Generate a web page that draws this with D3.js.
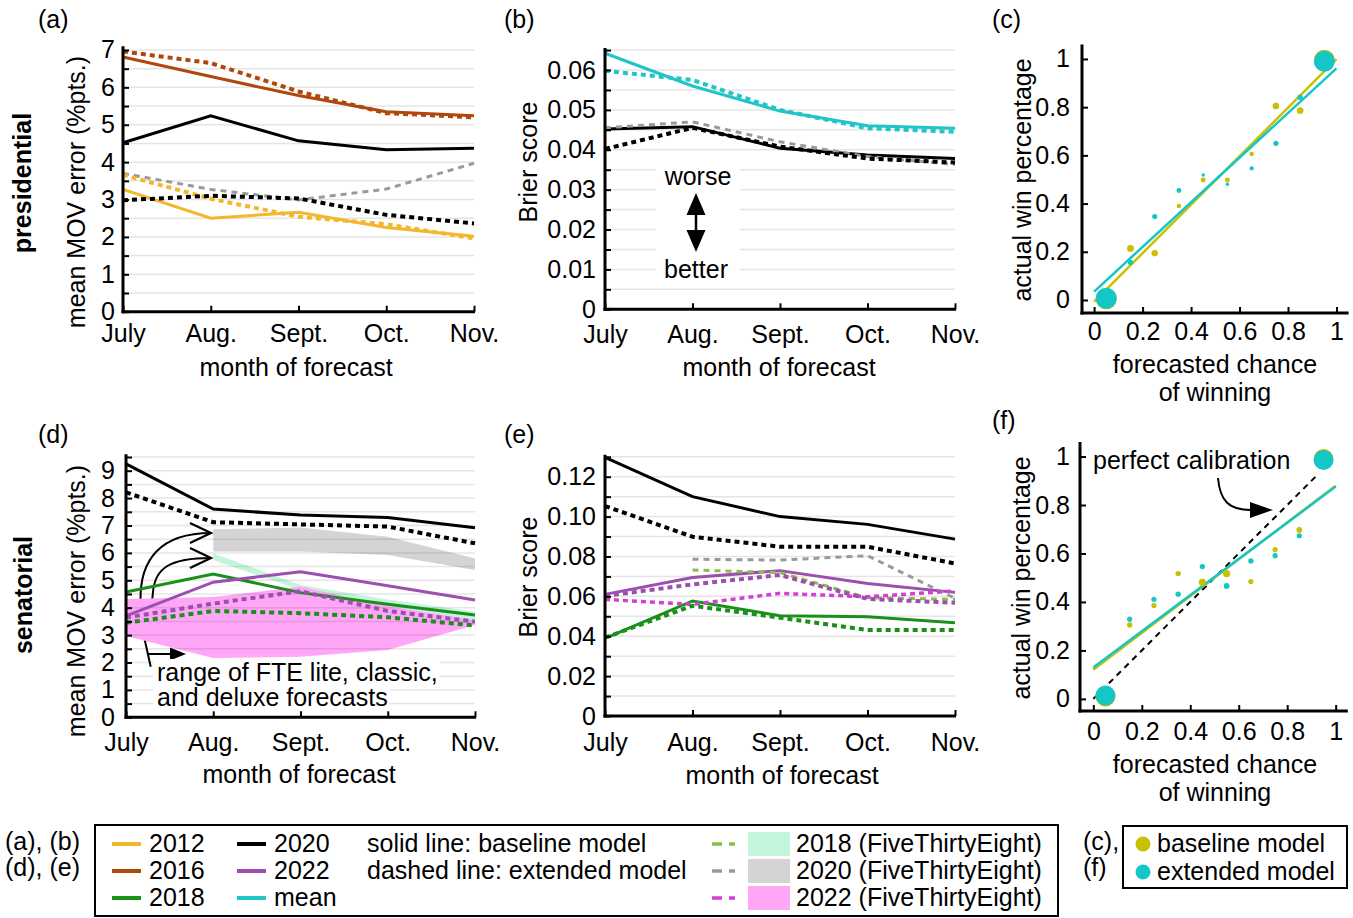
<!DOCTYPE html>
<html><head><meta charset="utf-8">
<script src="https://cdn.jsdelivr.net/npm/d3@7"></script>
<style>
html,body{margin:0;padding:0;background:#fff;}
svg{display:block;font-family:"Liberation Sans",Arial,Helvetica,sans-serif;}
</style></head><body>
<svg id="chart" width="1353" height="918"></svg>
<script>
// ---------------- data ----------------
const months = ["July", "Aug.", "Sept.", "Oct.", "Nov."];

// (a) presidential mean MOV error (%pts.)
const presMov2012Base = [3.27, 2.50, 2.66, 2.25, 2.02];
const presMov2012Ext  = [3.66, 3.02, 2.54, 2.34, 1.96];
const presMov2016Base = [6.81, 6.29, 5.78, 5.35, 5.24];
const presMov2016Ext  = [6.96, 6.65, 5.89, 5.31, 5.20];
const presMov2020Base = [4.52, 5.24, 4.57, 4.33, 4.37];
const presMov2020Ext  = [2.98, 3.10, 3.03, 2.59, 2.36];
const presMov2020FTE  = [3.70, 3.27, 2.99, 3.28, 3.97];

// (b) presidential Brier score
const presBrierMeanBase = [0.0642, 0.0560, 0.0497, 0.0460, 0.0454];
const presBrierMeanExt  = [0.0598, 0.0575, 0.0500, 0.0454, 0.0445];
const presBrier2020Base = [0.0452, 0.0458, 0.0404, 0.0387, 0.0378];
const presBrier2020Ext  = [0.0402, 0.0455, 0.0408, 0.0378, 0.0368];
const presBrier2020FTE  = [0.0455, 0.0470, 0.0420, 0.0383, 0.0363];

// (d) senatorial mean MOV error (%pts.)
const senMov2018Base = [4.57, 5.23, 4.55, 4.13, 3.73];
const senMov2018Ext  = [3.45, 3.88, 3.80, 3.65, 3.35];
const senMov2020Base = [9.25, 7.60, 7.38, 7.29, 6.92];
const senMov2020Ext  = [8.21, 7.12, 7.04, 6.96, 6.35];
const senMov2022Base = [3.70, 4.93, 5.31, 4.80, 4.28];
const senMov2022Ext  = [3.64, 4.15, 4.60, 3.88, 3.49];
// FiveThirtyEight ranges (lite / classic / deluxe)
const fte2018Low  = [null, 5.74, 4.65, 4.05, 3.50];
const fte2018High = [null, 5.99, 4.83, 4.30, 3.85];
const fte2020Low  = [null, 6.05, 6.05, 5.92, 5.38];
const fte2020High = [null, 6.86, 6.93, 6.59, 5.80];
const fte2022Low  = [2.97, 2.16, 2.21, 2.46, 3.37];
const fte2022High = [4.32, 4.39, 4.77, 4.05, 3.55];

// (e) senatorial Brier score
const senBrier2018Base = [0.0389, 0.0577, 0.0503, 0.0498, 0.0468];
const senBrier2018Ext  = [0.0393, 0.0553, 0.0493, 0.0431, 0.0431];
const senBrier2020Base = [0.1297, 0.1100, 0.1000, 0.0961, 0.0887];
const senBrier2020Ext  = [0.1053, 0.0899, 0.0849, 0.0849, 0.0765];
const senBrier2022Base = [0.0610, 0.0695, 0.0729, 0.0665, 0.0620];
const senBrier2022Ext  = [0.0602, 0.0660, 0.0707, 0.0587, 0.0568];
const senBrier2018FTE  = [null, 0.0732, 0.0719, 0.0593, 0.0585];
const senBrier2020FTE  = [null, 0.0786, 0.0782, 0.0804, 0.0590];
const senBrier2022FTE  = [0.0585, 0.0560, 0.0615, 0.0598, 0.0627];

// (c), (f) calibration
const calibBins = [0.05, 0.15, 0.25, 0.35, 0.45, 0.55, 0.65, 0.75, 0.85, 0.95];
const presCalibBase = [0.005, 0.214, 0.194, 0.390, 0.498, 0.498, 0.606, 0.805, 0.786, 0.995];
const presCalibExt  = [0.007, 0.156, 0.346, 0.454, 0.519, 0.480, 0.546, 0.650, 0.841, 0.990];
const presCountBase = [400, 42, 38, 18, 22, 22, 18, 40, 42, 400];
const presCountExt  = [400, 24, 24, 22, 11, 11, 16, 24, 26, 400];
const presFitBase = [-0.007, 0.999];   // fitted value at x = 0 and x = 1
const presFitExt  = [0.035, 0.961];

const senCalibBase = [0.010, 0.305, 0.385, 0.517, 0.481, 0.517, 0.484, 0.616, 0.697, 0.990];
const senCalibExt  = [0.014, 0.329, 0.411, 0.432, 0.546, 0.466, 0.569, 0.591, 0.673, 0.986];
const senCountBase = [360, 26, 24, 26, 48, 48, 24, 24, 30, 360];
const senCountExt  = [360, 24, 24, 26, 26, 30, 26, 24, 24, 360];
const senFitBase = [0.120, 0.880];
const senFitExt  = [0.129, 0.876];
const perfectCalib = [0, 0.93];

const legendYears = ["2012", "2016", "2018", "2020", "2022", "mean"];
const legendFTE = ["2018 (FiveThirtyEight)", "2020 (FiveThirtyEight)", "2022 (FiveThirtyEight)"];
const legendModels = ["baseline model", "extended model"];

// ---------------- styles ----------------
const FS = 25;
const C = {
  y2012: "#f3b72c", y2016: "#b0470c", y2018: "#1a8f1a", y2020: "#000000",
  y2022: "#9b4fae", mean: "#20c5c8",
  fte2018: "#8dbd47", fte2020: "#9a9a9a", fte2022: "#d63ed6",
  band2018: "#c2f5da", band2020: "#d4d4d4", band2022: "#ffa6f7",
  base: "#c8c000", ext: "#14c6c6"
};
const STY = {
  solid: { w: 3, dash: null },
  ext: { w: 4, dash: "5,4" },
  fte: { w: 3, dash: "6,5" }
};

const svg = d3.select("#chart");
const defs = svg.append("defs");
defs.append("marker").attr("id", "openArrow").attr("markerUnits", "userSpaceOnUse")
  .attr("viewBox", "-24 -13 28 26").attr("refX", 0).attr("refY", 0)
  .attr("markerWidth", 28).attr("markerHeight", 26).attr("orient", "auto")
  .append("path").attr("d", "M-21,-10 L0,0 L-21,10").attr("fill", "none")
  .attr("stroke", "#000").attr("stroke-width", 2.2);

function styleAxis(a) {
  a.attr("font-size", FS).attr("font-family", null);
  a.select(".domain").remove();
  a.selectAll(".tick line").attr("stroke", "#000").attr("stroke-width", 2);
  a.selectAll(".tick text").attr("fill", "#000");
}

function makeLinePanel(c) {
  const x = d3.scalePoint().domain(months).range([c.x0, c.x1]);
  const y = d3.scaleLinear().domain([0, c.ymax]).range([c.y0, c.y0 - c.ymax * c.ppu]);
  const g = svg.append("g");
  const under = g.append("g");
  const bands = g.append("g");
  const grid = g.append("g");
  const boxes = g.append("g");
  const lines = g.append("g");
  const axes = g.append("g");
  const n = Math.floor(c.ymax / c.step + 1e-6);
  const vals = d3.range(0, n + 1).map(i => +(i * c.step).toFixed(6));
  grid.selectAll("line").data(vals.filter(v => v > 0)).join("line")
    .attr("x1", c.x0).attr("x2", c.x1).attr("y1", d => y(d)).attr("y2", d => y(d))
    .attr("stroke", "rgba(0,0,0,0.1)").attr("stroke-width", 1.5);
  const isLab = d => Math.abs(d / c.labelStep - Math.round(d / c.labelStep)) < 1e-6;
  const ya = axes.append("g").attr("transform", `translate(${c.x0},0)`)
    .call(d3.axisLeft(y).tickValues(vals).tickSize(-6).tickSizeOuter(0).tickPadding(c.yPad)
      .tickFormat(d => isLab(d) ? c.fmt(d) : ""));
  const xa = axes.append("g").attr("transform", `translate(0,${c.y0})`)
    .call(d3.axisBottom(x).tickSize(-6).tickSizeOuter(0).tickPadding(c.xPad));
  styleAxis(ya); styleAxis(xa);
  axes.append("line").attr("x1", c.x0).attr("x2", c.x0).attr("y1", c.y0 + 1.5).attr("y2", y(c.ymax))
    .attr("stroke", "#000").attr("stroke-width", 3);
  axes.append("line").attr("x1", c.x0 - 1.5).attr("x2", c.x1 + 1).attr("y1", c.y0).attr("y2", c.y0)
    .attr("stroke", "#000").attr("stroke-width", 3);
  return { x, y, under, bands, grid, boxes, lines, axes };
}

function drawSeries(p, vals, color, sty) {
  const line = d3.line().defined(d => d[1] != null).x(d => p.x(d[0])).y(d => p.y(d[1]));
  p.lines.append("path").datum(months.map((m, i) => [m, vals[i]]))
    .attr("d", line).attr("fill", "none").attr("stroke", color)
    .attr("stroke-width", sty.w).attr("stroke-dasharray", sty.dash);
}
function drawBand(p, lo, hi, color) {
  const area = d3.area().defined(d => d[1] != null)
    .x(d => p.x(d[0])).y0(d => p.y(d[1])).y1(d => p.y(d[2]));
  p.bands.append("path").datum(months.map((m, i) => [m, lo[i], hi[i]]))
    .attr("d", area).attr("fill", color).attr("stroke", "none");
}

function txt(sel, s, x, y, opts = {}) {
  const t = sel.append("text").attr("x", x).attr("y", y).attr("font-size", opts.fs || FS)
    .attr("fill", "#000").text(s);
  if (opts.anchor) t.attr("text-anchor", opts.anchor);
  if (opts.bold) t.attr("font-weight", "bold");
  return t;
}
function rotTxt(s, x, y, bold) {
  const t = svg.append("text").attr("transform", `translate(${x},${y}) rotate(-90)`)
    .attr("text-anchor", "middle").attr("font-size", FS).attr("fill", "#000").text(s);
  if (bold) t.attr("font-weight", "bold");
}

const fmtInt = d3.format("d");
const fmt2 = d => d === 0 ? "0" : d3.format(".2f")(d);

// ---------------- (a) ----------------
const pa = makeLinePanel({ x0: 123, x1: 474, y0: 311.7, ymax: 7.1, ppu: 37.39, step: 0.5, labelStep: 1,
  fmt: fmtInt, yPad: 8, xPad: 13 });
drawSeries(pa, presMov2020FTE, C.fte2020, STY.fte);
drawSeries(pa, presMov2012Base, C.y2012, STY.solid);
drawSeries(pa, presMov2016Base, C.y2016, STY.solid);
drawSeries(pa, presMov2020Base, C.y2020, STY.solid);
drawSeries(pa, presMov2012Ext, C.y2012, STY.ext);
drawSeries(pa, presMov2016Ext, C.y2016, STY.ext);
drawSeries(pa, presMov2020Ext, C.y2020, STY.ext);

// ---------------- (b) ----------------
const pb = makeLinePanel({ x0: 605, x1: 955, y0: 309.3, ymax: 0.0655, ppu: 3988, step: 0.005, labelStep: 0.01,
  fmt: fmt2, yPad: 9, xPad: 15.5 });
pb.boxes.append("rect").attr("x", 656).attr("y", 162).attr("width", 84).attr("height", 120).attr("fill", "#fff");
txt(pb.boxes, "worse", 698, 185, { anchor: "middle" });
txt(pb.boxes, "better", 696, 278, { anchor: "middle" });
pb.boxes.append("line").attr("x1", 696).attr("x2", 696).attr("y1", 212).attr("y2", 233)
  .attr("stroke", "#000").attr("stroke-width", 2.5);
pb.boxes.append("path").attr("d", "M696,193 L686.5,215 L705.5,215 Z M696,252 L686.5,230 L705.5,230 Z").attr("fill", "#000");
drawSeries(pb, presBrierMeanBase, C.mean, STY.solid);
drawSeries(pb, presBrier2020Base, C.y2020, STY.solid);
drawSeries(pb, presBrier2020FTE, C.fte2020, STY.fte);
drawSeries(pb, presBrierMeanExt, C.mean, STY.ext);
drawSeries(pb, presBrier2020Ext, C.y2020, STY.ext);

// ---------------- (d) ----------------
const pd = makeLinePanel({ x0: 126, x1: 475, y0: 717.3, ymax: 9.6, ppu: 27.4, step: 0.5, labelStep: 1,
  fmt: fmtInt, yPad: 11, xPad: 16 });
// annotation arrows (partly hidden behind the pink range)
pd.under.append("path").attr("d", "M150.7,666.7 L145,641 C142,625 140,612 140.5,600 C140,560 160,533 211,533")
  .attr("fill", "none").attr("stroke", "#000").attr("stroke-width", 2).attr("marker-end", "url(#openArrow)");
pd.under.append("path").attr("d", "M145,641 C150,620 152,604 153,592 C155,568 170,558 211,558")
  .attr("fill", "none").attr("stroke", "#000").attr("stroke-width", 2).attr("marker-end", "url(#openArrow)");
pd.under.append("path").attr("d", "M148,654 L172,654").attr("stroke", "#000").attr("stroke-width", 2);
pd.under.append("path").attr("d", "M170,647.5 L186,654 L170,660.5 Z").attr("fill", "#000");
drawBand(pd, fte2020Low, fte2020High, C.band2020);
drawBand(pd, fte2018Low, fte2018High, C.band2018);
drawBand(pd, fte2022Low, fte2022High, C.band2022);
[["range of FTE lite, classic,", 681], ["and deluxe forecasts", 706]].forEach(([s, yy]) => {
  const t = txt(pd.boxes, s, 157, yy);
  const bb = t.node().getBBox();
  pd.boxes.insert("rect", "text").attr("x", bb.x - 4).attr("y", bb.y + 1).attr("width", bb.width + 6)
    .attr("height", bb.height - 1).attr("fill", "#fff");
});
drawSeries(pd, senMov2018Base, C.y2018, STY.solid);
drawSeries(pd, senMov2020Base, C.y2020, STY.solid);
drawSeries(pd, senMov2022Base, C.y2022, STY.solid);
drawSeries(pd, senMov2018Ext, C.y2018, STY.ext);
drawSeries(pd, senMov2020Ext, C.y2020, STY.ext);
drawSeries(pd, senMov2022Ext, C.y2022, STY.ext);

// ---------------- (e) ----------------
const pe = makeLinePanel({ x0: 605, x1: 955, y0: 716, ymax: 0.131, ppu: 1994, step: 0.01, labelStep: 0.02,
  fmt: fmt2, yPad: 9, xPad: 17 });
drawSeries(pe, senBrier2018Base, C.y2018, STY.solid);
drawSeries(pe, senBrier2020Base, C.y2020, STY.solid);
drawSeries(pe, senBrier2022Base, C.y2022, STY.solid);
drawSeries(pe, senBrier2020FTE, C.fte2020, STY.fte);
drawSeries(pe, senBrier2018FTE, C.fte2018, STY.fte);
drawSeries(pe, senBrier2022FTE, C.fte2022, { w: 3.5, dash: "5,4" });
drawSeries(pe, senBrier2018Ext, C.y2018, STY.ext);
drawSeries(pe, senBrier2020Ext, C.y2020, STY.ext);
drawSeries(pe, senBrier2022Ext, C.y2022, STY.ext);

// ---------------- (c), (f) ----------------
const rScale = d3.scaleSqrt().domain([0, 400]).range([0, 10.5]);
function makeCalib(c) {
  const x = d3.scaleLinear().domain(c.xd).range([c.x0, c.x1]);
  const y = d3.scaleLinear().domain(c.yd).range([c.y0, c.y1]);
  const g = svg.append("g");
  const ticks = [0, 0.2, 0.4, 0.6, 0.8, 1];
  const f = d => (d === 0 || d === 1) ? String(d) : d.toFixed(1);
  const ya = g.append("g").attr("transform", `translate(${c.x0},0)`)
    .call(d3.axisLeft(y).tickValues(ticks).tickSize(-6).tickSizeOuter(0).tickPadding(c.yPad).tickFormat(f));
  const xa = g.append("g").attr("transform", `translate(0,${c.y0})`)
    .call(d3.axisBottom(x).tickValues(ticks).tickSize(-6).tickSizeOuter(0).tickPadding(c.xPad).tickFormat(f));
  styleAxis(ya); styleAxis(xa);
  g.append("line").attr("x1", c.x0).attr("x2", c.x0).attr("y1", c.y0 + 1.5).attr("y2", c.y1)
    .attr("stroke", "#000").attr("stroke-width", 3);
  g.append("line").attr("x1", c.x0 - 1.5).attr("x2", c.x1).attr("y1", c.y0).attr("y2", c.y0)
    .attr("stroke", "#000").attr("stroke-width", 3);
  const data = g.append("g");
  return { x, y, g, data };
}
function drawCalib(p, fitB, fitE, yb, ye, nb, ne, perfect) {
  if (perfect) {
    p.data.append("line").attr("x1", p.x(perfect[0])).attr("y1", p.y(perfect[0]))
      .attr("x2", p.x(perfect[1])).attr("y2", p.y(perfect[1]))
      .attr("stroke", "#000").attr("stroke-width", 2).attr("stroke-dasharray", "6,5");
  }
  [[fitB, C.base], [fitE, C.ext]].forEach(([f, col]) => {
    p.data.append("line").attr("x1", p.x(0)).attr("y1", p.y(f[0])).attr("x2", p.x(1)).attr("y2", p.y(f[1]))
      .attr("stroke", col).attr("stroke-width", 2.5);
  });
  [[yb, nb, C.base], [ye, ne, C.ext]].forEach(([ys, ns, col]) => {
    p.data.append("g").selectAll("circle").data(calibBins.map((b, i) => [b, ys[i], ns[i]])).join("circle")
      .attr("cx", d => p.x(d[0])).attr("cy", d => p.y(d[1])).attr("r", d => rScale(d[2])).attr("fill", col);
  });
}
const pc = makeCalib({ xd: [-0.05, 1.05], x0: 1082, x1: 1348.6, yd: [-0.054, 1.06], y0: 313, y1: 44.5, yPad: 12, xPad: 9.5 });
drawCalib(pc, presFitBase, presFitExt, presCalibBase, presCalibExt, presCountBase, presCountExt, null);
const pf = makeCalib({ xd: [-0.055, 1.05], x0: 1080, x1: 1347.8, yd: [-0.05, 1.06], y0: 711, y1: 442, yPad: 10, xPad: 11 });
drawCalib(pf, senFitBase, senFitExt, senCalibBase, senCalibExt, senCountBase, senCountExt, perfectCalib);
txt(svg, "perfect calibration", 1093, 469);
svg.append("path").attr("d", "M1218,478 C1220,502 1230,510 1251,510").attr("fill", "none")
  .attr("stroke", "#000").attr("stroke-width", 2);
svg.append("path").attr("d", "M1250,502 L1273,510 L1250,518 Z").attr("fill", "#000");

// ---------------- labels ----------------
txt(svg, "(a)", 38, 28); txt(svg, "(b)", 504, 28); txt(svg, "(c)", 992, 28);
txt(svg, "(d)", 38, 443); txt(svg, "(e)", 504, 443); txt(svg, "(f)", 992, 429);
rotTxt("presidential", 31, 183, true);
rotTxt("senatorial", 32, 595, true);
rotTxt("mean MOV error (%pts.)", 85, 192);
rotTxt("mean MOV error (%pts.)", 85, 601);
rotTxt("Brier score", 537, 162);
rotTxt("Brier score", 537, 577);
rotTxt("actual win percentage", 1031, 180);
rotTxt("actual win percentage", 1030, 578);
txt(svg, "month of forecast", 296, 376, { anchor: "middle" });
txt(svg, "month of forecast", 779, 376, { anchor: "middle" });
txt(svg, "month of forecast", 299, 783, { anchor: "middle" });
txt(svg, "month of forecast", 782, 784, { anchor: "middle" });
txt(svg, "forecasted chance", 1215, 373, { anchor: "middle" });
txt(svg, "of winning", 1215, 401, { anchor: "middle" });
txt(svg, "forecasted chance", 1215, 773, { anchor: "middle" });
txt(svg, "of winning", 1215, 801, { anchor: "middle" });

// ---------------- legends ----------------
const lg = svg.append("g");
txt(lg, "(a), (b)", 5, 850); txt(lg, "(d), (e)", 5, 876);
lg.append("rect").attr("x", 95).attr("y", 825).attr("width", 963).attr("height", 91)
  .attr("fill", "none").attr("stroke", "#000").attr("stroke-width", 2);
const rowsY = [852, 879, 906];
const yearColor = { "2012": C.y2012, "2016": C.y2016, "2018": C.y2018, "2020": C.y2020, "2022": C.y2022, "mean": C.mean };
legendYears.forEach((s, i) => {
  const col = Math.floor(i / 3), row = i % 3;
  const sx = col === 0 ? 112 : 237;
  lg.append("line").attr("x1", sx).attr("x2", sx + 29).attr("y1", rowsY[row] - 8).attr("y2", rowsY[row] - 8)
    .attr("stroke", yearColor[s]).attr("stroke-width", 4);
  txt(lg, s, sx + 37, rowsY[row]);
});
txt(lg, "solid line: baseline model", 367, 852);
txt(lg, "dashed line: extended model", 367, 879);
const fteCols = [[C.fte2018, C.band2018], [C.fte2020, C.band2020], [C.fte2022, C.band2022]];
legendFTE.forEach((s, i) => {
  const yy = rowsY[i];
  lg.append("line").attr("x1", 712).attr("x2", 735).attr("y1", yy - 8).attr("y2", yy - 8)
    .attr("stroke", fteCols[i][0]).attr("stroke-width", 3.5).attr("stroke-dasharray", "10,7");
  lg.append("rect").attr("x", 748).attr("y", yy - 20).attr("width", 42).attr("height", 24).attr("fill", fteCols[i][1]);
  txt(lg, s, 796, yy);
});
txt(lg, "(c),", 1083, 850); txt(lg, "(f)", 1083, 876);
lg.append("rect").attr("x", 1123).attr("y", 826).attr("width", 224).attr("height", 62)
  .attr("fill", "none").attr("stroke", "#000").attr("stroke-width", 2);
legendModels.forEach((s, i) => {
  const yy = [852, 880][i];
  lg.append("circle").attr("cx", 1143).attr("cy", yy - 8).attr("r", 7.5).attr("fill", i === 0 ? C.base : C.ext);
  txt(lg, s, 1157, yy);
});
</script></body></html>
